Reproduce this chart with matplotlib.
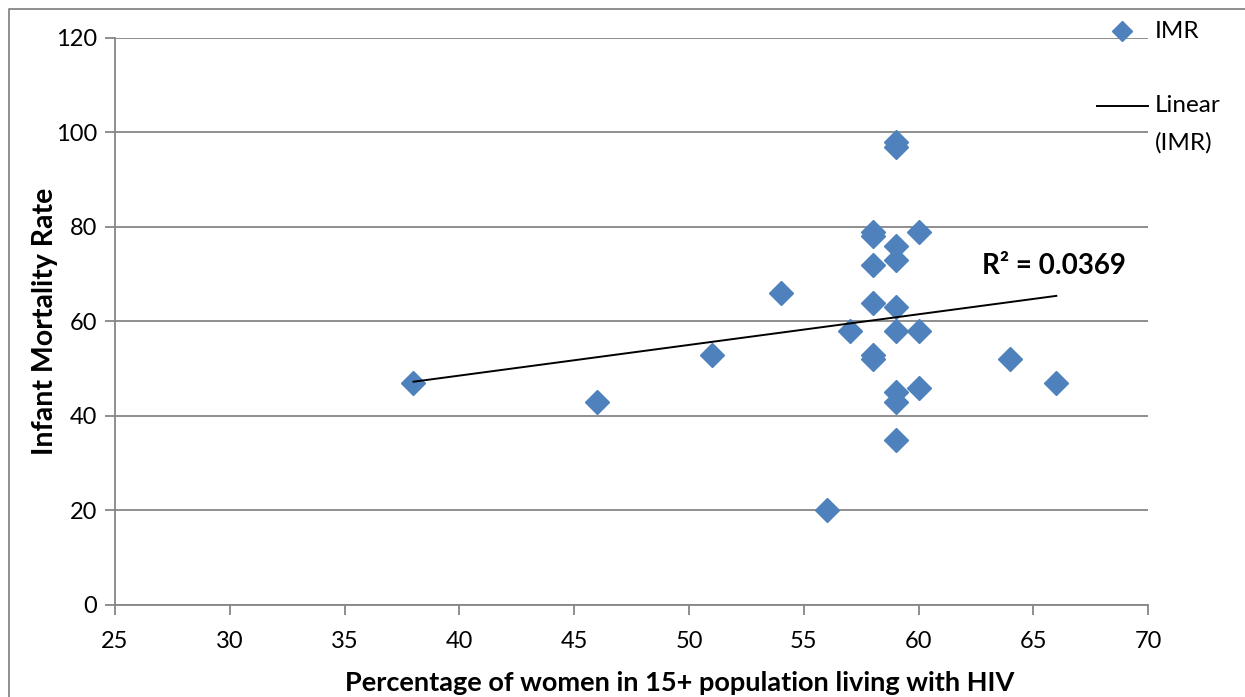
import numpy as np
import matplotlib.pyplot as plt
from matplotlib.lines import Line2D

plt.rcParams['font.family'] = ['Lato', 'DejaVu Sans']

# percentage of women among HIV+ adults vs infant mortality rate
pct_women = [38, 46, 51, 54, 56, 57,
             58, 58, 58, 58, 58, 58,
             59, 59, 59, 59, 59, 59, 59, 59, 59,
             60, 60, 60, 64, 66]
imr = [47, 43, 53, 66, 20, 58,
       79, 78, 72, 64, 53, 52,
       98, 97, 76, 73, 63, 58, 45, 43, 35,
       79, 58, 46, 52, 47]
r2_label = 'R² = 0.0369'

x_ticks = np.arange(25, 71, 5)
y_ticks = np.arange(0, 121, 20)

blue = '#4F81BD'
grid_grey = '#868686'
H = 697

fig = plt.figure(figsize=(12.45, 6.97), dpi=100)
ax = fig.add_axes([0.0924, 0.132, 0.8298, 0.8135])

ax.plot(pct_women, imr, linestyle='none', marker='D', ms=12.5,
        color=blue, markeredgecolor=blue, zorder=3, clip_on=False)

# least squares trend line over the data range
slope, icept = np.polyfit(pct_women, imr, 1)
xs = np.array([min(pct_women), max(pct_women)])
ax.plot(xs, slope * xs + icept, color='black', lw=1.4, zorder=4)

fig.text(982 / 1245, 1 - 266 / H, r2_label, fontsize=20, fontweight='bold',
         va='center', ha='left')

ax.set_xlim(25, 70)
ax.set_ylim(0, 120)
ax.set_xticks(x_ticks)
ax.set_yticks(y_ticks)
ax.yaxis.grid(True, color=grid_grey, lw=1.3)
ax.set_axisbelow(True)

for side in ['top', 'right']:
    ax.spines[side].set_visible(False)
for side in ['left', 'bottom']:
    ax.spines[side].set_color(grid_grey)
    ax.spines[side].set_linewidth(1.3)

ax.tick_params(axis='both', direction='out', length=7, width=1.3,
               color=grid_grey, labelsize=17)
ax.tick_params(axis='y', pad=6)
ax.tick_params(axis='x', pad=12)

ax.set_xlabel('Percentage of women in 15+ population living with HIV',
              fontsize=19.5, fontweight='bold', va='center')
ax.set_ylabel('Infant Mortality Rate', fontsize=20.5, fontweight='bold',
              va='center')
ax.xaxis.set_label_coords(0.547, -0.138)
ax.yaxis.set_label_coords(-0.068, 0.5)

# legend entries drawn beside the plot area
fig.add_artist(Line2D([1122], [H - 31], transform=None, marker='D', ms=10,
                      color=blue, linestyle='none'))
fig.text(1155 / 1245, 1 - 31 / H, 'IMR', fontsize=17.5, va='center')
fig.add_artist(Line2D([1097, 1148], [H - 106, H - 106], transform=None,
                      color='black', lw=1.4))
fig.text(1155 / 1245, 1 - 106 / H, 'Linear', fontsize=17.5, va='center')
fig.text(1155 / 1245, 1 - 143 / H, '(IMR)', fontsize=17.5, va='center')

# outer chart frame
fig.add_artist(Line2D([9, 9, 1245], [0, H - 9, H - 9], transform=None,
                      color=grid_grey, lw=1.3))

fig.savefig('out.png', dpi=100)
